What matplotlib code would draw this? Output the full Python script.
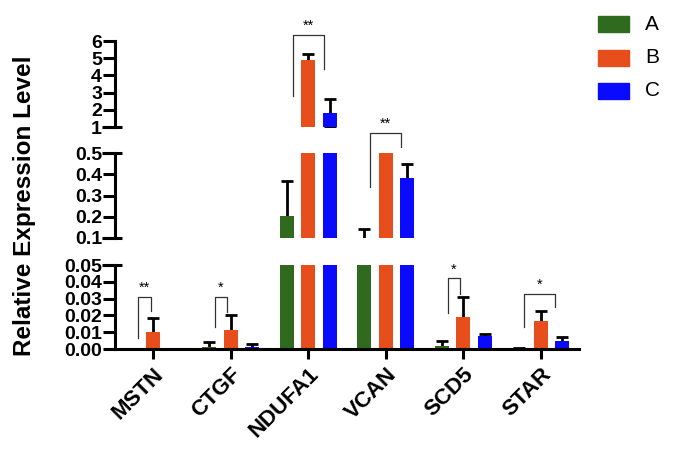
import matplotlib
matplotlib.use('Agg')
import matplotlib.pyplot as plt
import matplotlib.transforms as mtransforms
from matplotlib.patches import Rectangle
import numpy as np

plt.rcParams['font.family'] = ['Liberation Sans', 'DejaVu Sans']

genes = ['MSTN', 'CTGF', 'NDUFA1', 'VCAN', 'SCD5', 'STAR']
groups = ['A', 'B', 'C']
a_mean = [0.0, 0.0012, 0.205, 0.09, 0.0017, 0.0005]
a_err = [0.0, 0.0031, 0.163, 0.052, 0.0033, 0.0003]
b_mean = [0.0103, 0.0113, 4.9, 0.75, 0.0192, 0.0168]
b_err = [0.0083, 0.0087, 0.33, 0.05, 0.0118, 0.0058]
c_mean = [0.0, 0.0013, 1.83, 0.381, 0.0079, 0.005]
c_err = [0.0, 0.0017, 0.82, 0.066, 0.0008, 0.0023]
sig_labels = ['**', '*', '**', '**', '*', '*']

colors = ['#2f6a1f', '#e84e1b', '#0a0aff']
means = [a_mean, b_mean, c_mean]
errs = [a_err, b_err, c_err]

# bracket geometry: segment, x offsets from gene centre, top, left leg end, right leg end
brackets = [
    ('bot', -0.19, -0.03, 0.031, 0.0065, 0.0225),
    ('bot', -0.20, -0.05, 0.031, 0.013, 0.022),
    ('top', -0.20, 0.20, 6.35, 2.8, 4.4),
    ('mid', -0.20, 0.20, 0.593, 0.341, 0.53),
    ('bot', -0.20, -0.04, 0.042, 0.0216, 0.033),
    ('bot', -0.22, 0.18, 0.0327, 0.013, 0.0248),
]

W, H = 680, 453
fig = plt.figure(figsize=(6.8, 4.53), dpi=100)

left = 114.5 / W
width = (579 - 114.5) / W

def px_axes(ytop, ybot):
    return fig.add_axes([left, 1 - ybot / H, width, (ybot - ytop) / H])

ax_top = px_axes(41, 127)
ax_mid = px_axes(153, 238)
ax_bot = px_axes(265, 349)
axes = {'top': ax_top, 'mid': ax_mid, 'bot': ax_bot}

x = np.arange(len(genes))
off = 0.277
bw = 0.18
lw = 2.2
xmin, xmax = -0.495, 5.49

for ax, lim, ticks, fmt in [(ax_top, (1, 6), np.arange(1, 7), '{:.0f}'),
                            (ax_mid, (0.1, 0.5), [0.1, 0.2, 0.3, 0.4, 0.5], '{:.1f}'),
                            (ax_bot, (0, 0.05), [0, 0.01, 0.02, 0.03, 0.04, 0.05], '{:.2f}')]:
    for i in range(3):
        xi = x + (i - 1) * off
        ax.bar(xi, means[i], width=bw, color=colors[i], zorder=2)
        ax.errorbar(xi, means[i], yerr=errs[i], fmt='none', ecolor='black',
                    elinewidth=2, capsize=4.5, capthick=2, zorder=1)
    ax.set_xlim(xmin, xmax)
    ax.set_ylim(*lim)
    ax.set_yticks(ticks)
    ax.set_yticklabels([fmt.format(t) for t in ticks], fontsize=14, fontweight='bold')
    ax.patch.set_visible(False)
    for s in ['top', 'right']:
        ax.spines[s].set_visible(False)
    ax.spines['left'].set_linewidth(lw)
    ax.tick_params(axis='y', length=8.5, width=lw, pad=0.5)
    if ax is not ax_bot:
        ax.spines['bottom'].set_visible(False)
        ax.set_xticks([])

ax_bot.spines['bottom'].set_linewidth(lw)
ax_bot.set_xticks(x)
ax_bot.set_xticklabels(genes, rotation=45, ha='right', va='top', rotation_mode='anchor',
                       fontsize=16, fontweight='bold')
ax_bot.tick_params(axis='x', length=7.5, width=lw, pad=3)

# caps at the axis breaks
for ax, yv in [(ax_top, 1), (ax_mid, 0.5), (ax_mid, 0.1), (ax_bot, 0.05)]:
    tr = mtransforms.blended_transform_factory(ax.transAxes, ax.transData)
    ax.plot([-0.026, 0.016], [yv, yv], color='black', lw=lw, transform=tr,
            clip_on=False, solid_capstyle='butt', zorder=5)

# significance brackets
for gi, (seg, lo, ro, top, ll, rl) in enumerate(brackets):
    ax = axes[seg]
    xl, xr = gi + lo, gi + ro
    ax.plot([xl, xl, xr, xr], [ll, top, top, rl], color='#333333', lw=0.9,
            clip_on=False, zorder=4)
    ax.annotate(sig_labels[gi], xy=((xl + xr) / 2, top), xytext=(0, 6.5),
                textcoords='offset points', ha='center', va='center',
                fontsize=10.5, annotation_clip=False)

fig.text(25 / W, 1 - 206 / H, 'Relative Expression Level', rotation=90,
         ha='center', va='center', fontsize=17.5, fontweight='bold')

# legend
for i, g in enumerate(groups):
    yc = 24 + i * 33.5
    fig.patches.append(Rectangle((598 / W, 1 - (yc + 8) / H), 31 / W, 16 / H,
                                 transform=fig.transFigure, color=colors[i]))
    fig.text(645 / W, 1 - yc / H, g, ha='left', va='center', fontsize=15)

fig.savefig('out.png', dpi=100)
